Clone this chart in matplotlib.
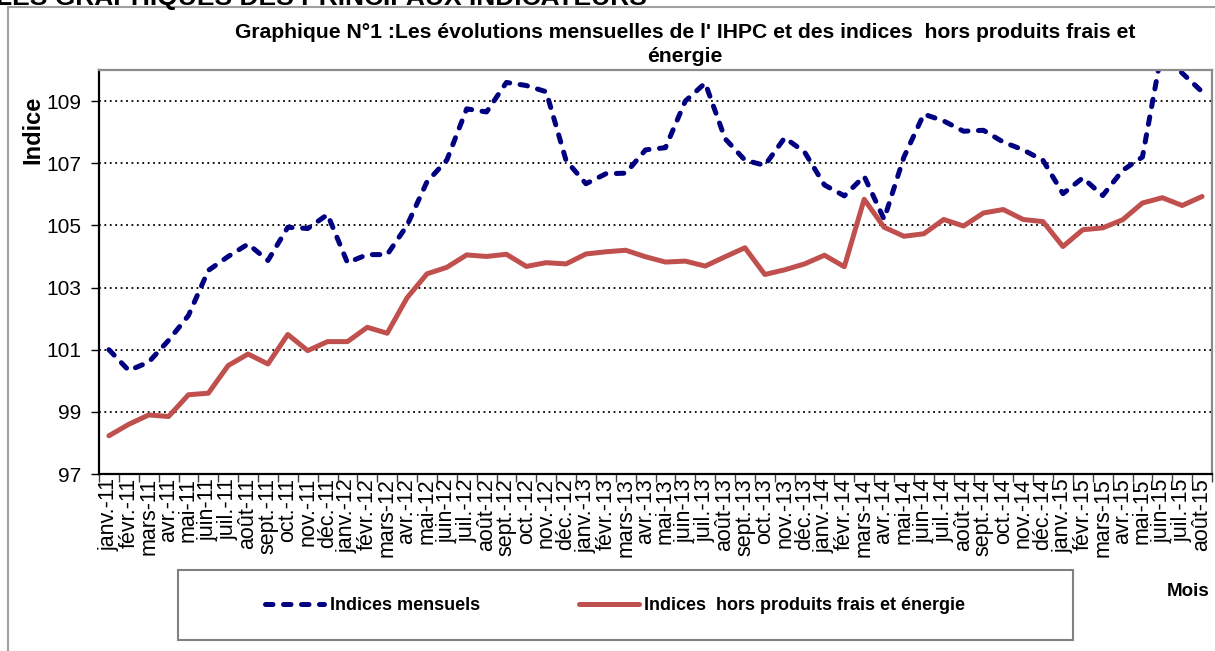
import numpy as np
import matplotlib.pyplot as plt
from matplotlib.lines import Line2D
from matplotlib.patches import Rectangle

plt.rcParams['font.family'] = ['Liberation Sans', 'DejaVu Sans']

# month names and years shown on the x axis
mois = ['janv.', 'févr.', 'mars', 'avr.', 'mai', 'juin',
        'juil.', 'août', 'sept.', 'oct.', 'nov.', 'déc.']
annees = ['11', '12', '13', '14', '15']
labels = [m + '-' + a for a in annees for m in mois][:56]

# Indices mensuels (IHPC)
indices_mensuels = [101.0, 100.33, 100.6, 101.3, 102.1, 103.55, 104.0, 104.4, 103.87, 104.94, 104.9, 105.35,
                    103.8, 104.06, 104.06, 105.0, 106.4, 107.1, 108.75, 108.65, 109.6, 109.5, 109.3, 107.09,
                    106.34, 106.66, 106.68, 107.43, 107.5, 109.0, 109.58, 107.79, 107.1, 106.93, 107.82, 107.36,
                    106.3, 105.95, 106.58, 105.2, 107.2, 108.58, 108.36, 108.03, 108.06, 107.68, 107.43, 107.09,
                    106.02, 106.53, 105.96, 106.77, 107.2, 110.7, 109.9, 109.3]

# Indices hors produits frais et energie
indices_hors_pfe = [98.23, 98.6, 98.9, 98.85, 99.55, 99.6, 100.49, 100.86, 100.54, 101.49, 100.97, 101.26,
                    101.26, 101.72, 101.53, 102.67, 103.44, 103.65, 104.05, 104.0, 104.07, 103.68, 103.8, 103.76,
                    104.08, 104.15, 104.2, 103.99, 103.82, 103.85, 103.69, 103.99, 104.28, 103.42, 103.57, 103.76,
                    104.04, 103.67, 105.84, 104.94, 104.65, 104.73, 105.19, 104.98, 105.40, 105.51, 105.19, 105.12,
                    104.32, 104.86, 104.92, 105.18, 105.72, 105.89, 105.64, 105.93]

W, H = 1215, 651
fig = plt.figure(figsize=(W / 100, H / 100), dpi=100)

# plot area in pixels: left 99, right 1212, top 70, bottom 474
ax = fig.add_axes([99 / W, 1 - 474 / H, (1212 - 99) / W, (474 - 70) / H])

x = np.arange(len(labels))
ax.plot(x, indices_mensuels, color='#000080', lw=3.6, ls=(0, (1.5, 2.1)),
        dash_capstyle='round', solid_capstyle='round', label='Indices mensuels')
ax.plot(x, indices_hors_pfe, color='#C0504D', lw=3.6, solid_capstyle='round',
        label='Indices  hors produits frais et énergie')

ax.set_xlim(-0.5, len(labels) - 0.5)
ax.set_ylim(97, 110)
ax.set_yticks(np.arange(97, 110, 2))
ax.yaxis.grid(True, color='black', ls=(0, (1, 2)), lw=1.3)
ax.set_axisbelow(True)

ax.set_xticks(x)
ax.set_xticklabels(labels, rotation=90, fontsize=15.5)
ax.set_xticks(np.arange(-0.5, len(labels), 1), minor=True)
ax.tick_params(axis='x', which='major', length=0, pad=3)
ax.tick_params(axis='x', which='minor', length=6, width=1, color='#404040', direction='out')
ax.tick_params(axis='y', length=6, width=1, pad=7, labelsize=15)

for s in ['left', 'bottom']:
    ax.spines[s].set_color('black')
    ax.spines[s].set_linewidth(1.6)
for s in ['top', 'right']:
    ax.spines[s].set_color('#8c8c8c')
    ax.spines[s].set_linewidth(1.6)

# titles and axis names
fig.text(685 / W, 1 - 32 / H,
         "Graphique N°1 :Les évolutions mensuelles de l' IHPC et des indices  hors produits frais et",
         ha='center', va='center', fontsize=15.2, fontweight='bold')
fig.text(685 / W, 1 - 57 / H, 'énergie', ha='center', va='center', fontsize=15.2, fontweight='bold')
fig.text(33 / W, 1 - 130 / H, 'Indice', rotation=90, ha='center', va='center',
         fontsize=17, fontweight='bold')
fig.text(1188 / W, 1 - 592 / H, 'Mois', ha='center', va='center', fontsize=13.5, fontweight='bold')

# heading of the page, cut at the top of the picture
fig.text(-4 / W, 1 - 5 / H, 'LES GRAPHIQUES DES PRINCIPAUX INDICATEURS', ha='left', va='baseline',
         fontsize=19, fontweight='bold')

# chart frame
fig.add_artist(Line2D([7.5 / W, 7.5 / W], [0, 1 - 7 / H], color='#a0a0a0', lw=1.5))
fig.add_artist(Line2D([7.5 / W, 1], [1 - 7 / H, 1 - 7 / H], color='#a0a0a0', lw=1.5))

# legend box
fig.add_artist(Rectangle((178 / W, 1 - 640 / H), (1073 - 178) / W, (640 - 570) / H,
                         transform=fig.transFigure, fill=False, ec='#808080', lw=1.5))
fig.legend(loc='center', bbox_to_anchor=(615 / W, 1 - 606 / H), ncol=2, frameon=False,
           prop={'size': 13, 'weight': 'bold'}, handlelength=3.3, columnspacing=5.5,
           handletextpad=0.3)

fig.savefig('out.png', dpi=100)
